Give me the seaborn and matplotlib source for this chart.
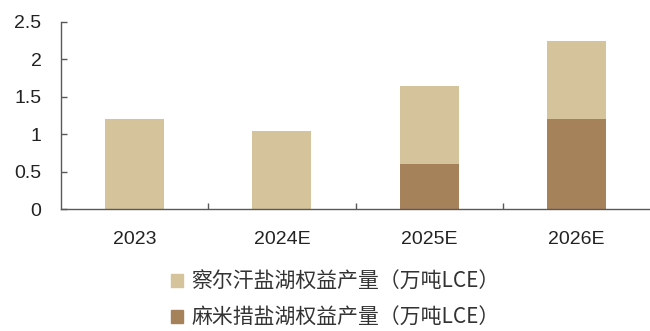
import matplotlib
matplotlib.use("Agg")
import matplotlib.pyplot as plt
import matplotlib.patches as mpatches
import numpy as np
import pandas as pd
import seaborn as sns

# Equity lithium output by salt lake (10k t LCE)
years = ["2023", "2024E", "2025E", "2026E"]
chaerhan = [1.2, 1.04, 1.04, 1.04]
mamicuo = [0.0, 0.0, 0.6, 1.2]
labels = ["察尔汗盐湖权益产量（万吨LCE）", "麻米措盐湖权益产量（万吨LCE）"]

light = "#D4C39B"
brown = "#A6825B"
axis_col = "#595959"

sns.set_theme(style="white")
plt.rcParams["font.family"] = ["Liberation Sans", "Noto Sans CJK SC", "DejaVu Sans"]

df = pd.DataFrame({
    "year": years,
    "chaerhan": chaerhan,
    "mamicuo": mamicuo,
})
df["total"] = df["chaerhan"] + df["mamicuo"]

fig = plt.figure(figsize=(6.5, 3.31), dpi=100)
ax = fig.add_axes([61 / 650, 1 - 209 / 331, 1 - 61 / 650, (209 - 22) / 331])

# stacked bars: full height in light tone, lower segment in brown
sns.barplot(data=df, x="year", y="total", order=years, color=light,
            width=0.4, saturation=1, ax=ax, linewidth=0)
sns.barplot(data=df, x="year", y="mamicuo", order=years, color=brown,
            width=0.4, saturation=1, ax=ax, linewidth=0)

ax.set_xlim(-0.5, 3.5)
ax.set_ylim(0, 2.5)
ax.set_yticks([0, 0.5, 1, 1.5, 2, 2.5])
ax.set_yticklabels(["0", "0.5", "1", "1.5", "2", "2.5"])
ax.set_xlabel("")
ax.set_ylabel("")

for side in ["top", "right"]:
    ax.spines[side].set_visible(False)
for side in ["left", "bottom"]:
    ax.spines[side].set_color(axis_col)
    ax.spines[side].set_linewidth(1.0)

ax.tick_params(axis="y", direction="in", length=4, width=1, color=axis_col,
               labelsize=14, labelcolor="#222222", pad=14, left=True)
ax.tick_params(axis="x", bottom=False, labelsize=14, labelcolor="#222222", pad=10)
# category separators as inward ticks on the x axis
ax.set_xticks([0.5, 1.5, 2.5], minor=True)
ax.tick_params(axis="x", which="minor", direction="in", length=4, width=1,
               color=axis_col, bottom=True)

handles = [mpatches.Patch(color=light, label=labels[0]),
           mpatches.Patch(color=brown, label=labels[1])]
fig.legend(handles=handles, loc="upper left", bbox_to_anchor=(158 / 650, 1 - 258 / 331),
           frameon=False, handlelength=0.6, handleheight=0.6,
           handletextpad=0.4, labelspacing=0.7, labelcolor="#333333",
           borderpad=0.1,
           prop={"family": ["Noto Sans CJK SC", "DejaVu Sans"], "size": 15})

fig.savefig("out.png", dpi=100)
